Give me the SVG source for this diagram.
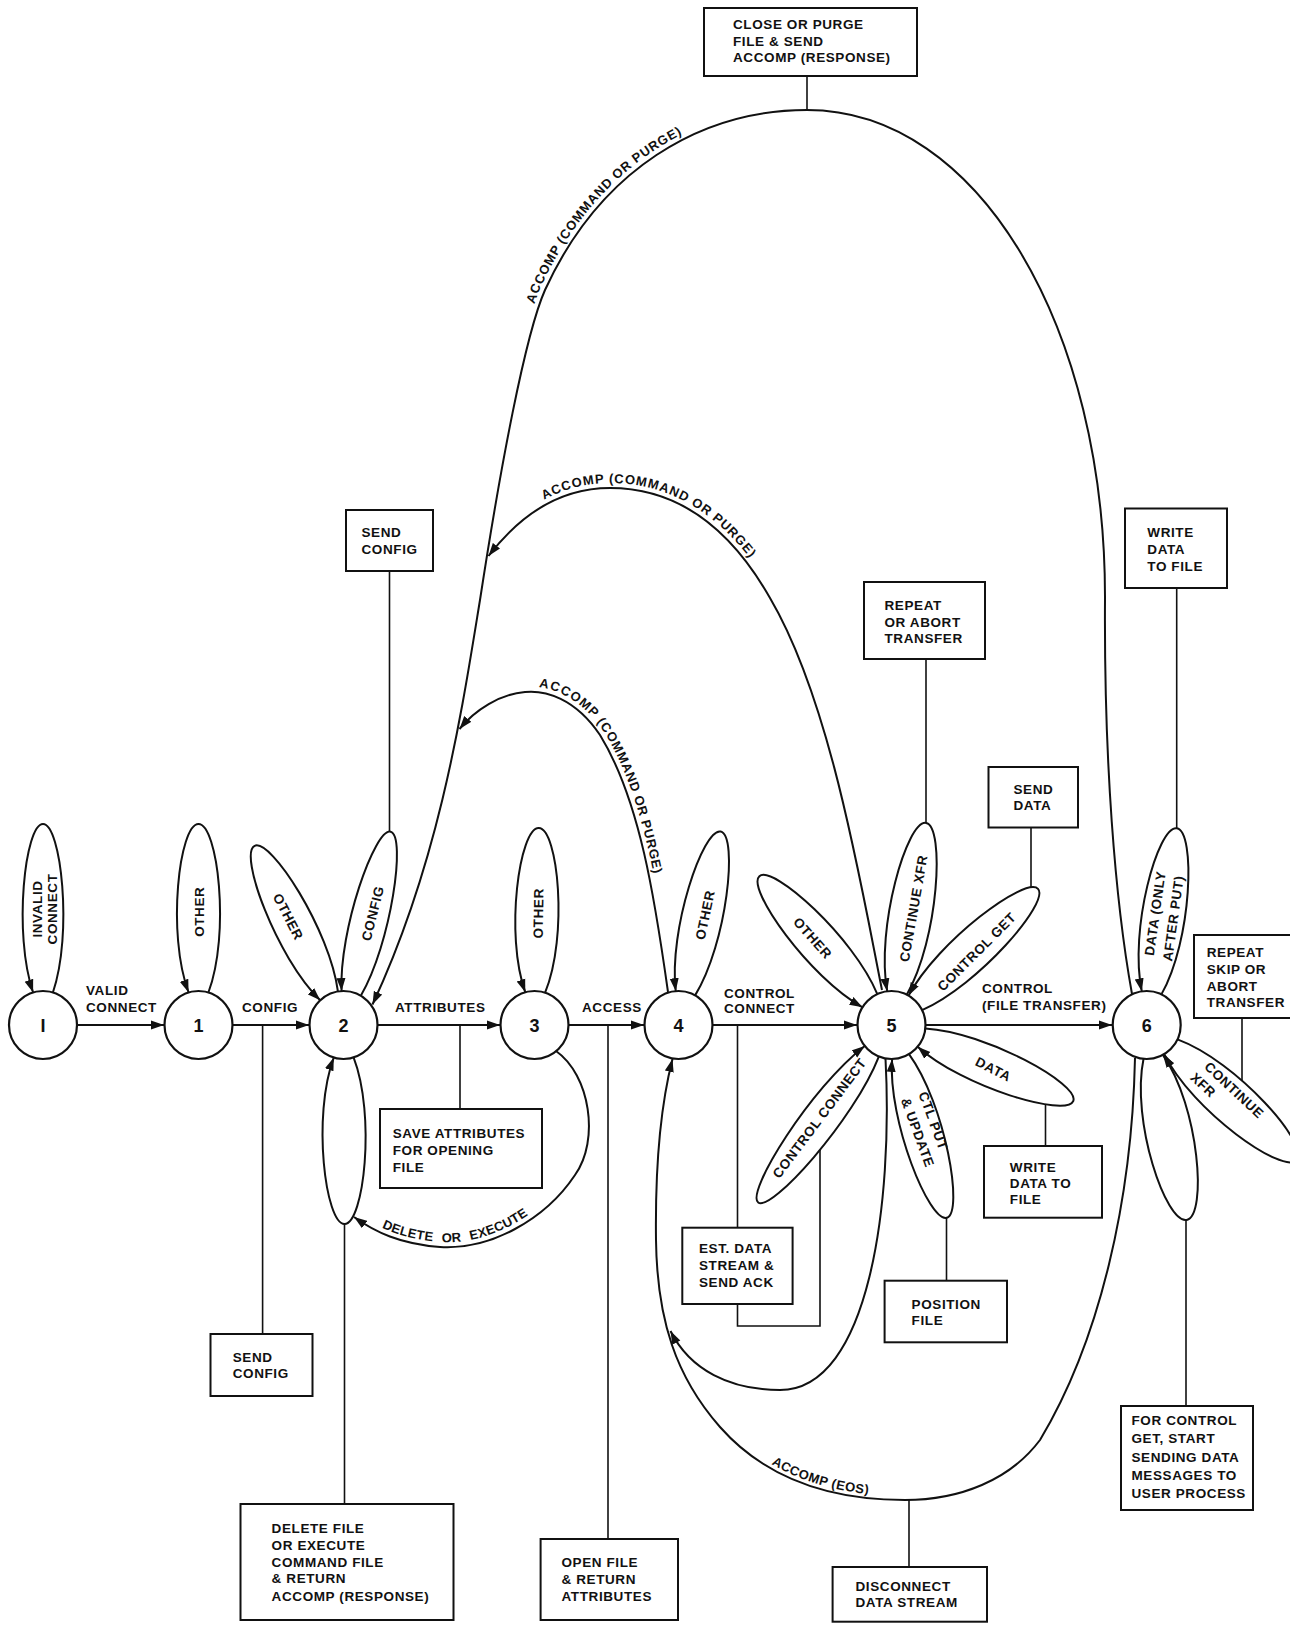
<svg xmlns="http://www.w3.org/2000/svg" width="1290" height="1627" viewBox="0 0 1290 1627">
<style>
text { font-family: "Liberation Sans", Arial, sans-serif; font-weight: bold; font-size: 13.5px; letter-spacing: 0.6px; fill: #111; }
.n { font-size: 18px; text-anchor: middle; letter-spacing: 0; }
.m { text-anchor: middle; }
.a { font-size: 13px; }
.c { fill: #fff; stroke: #111; stroke-width: 2.2; }
.box { fill: #fff; stroke: #111; stroke-width: 2; }
.ln { fill: none; stroke: #111; stroke-width: 1.6; }
.ar { fill: none; stroke: #111; stroke-width: 2; }
.pt { fill: #fff; stroke: #111; stroke-width: 2; }
</style>
<defs>
<marker id="ah" markerUnits="userSpaceOnUse" markerWidth="14" markerHeight="10" refX="13" refY="5" orient="auto">
<path d="M0,0.5 L13,5 L0,9.5 z" fill="#111"/>
</marker>
<path id="tpOuter" d="M480,600 C500,470 525,335 545,290 C600,170 700,110 807,110"/>
<path id="tpMid" d="M488.5,556 C520,515 560,488 610,488 C660,488 720,510 770,598 C830,700 860,880 882,990"/>
<path id="tpInner" d="M459.5,729 C475,710 500,694 525,692 C545,690 575,698 600,735 C640,800 655,900 668,992"/>
<path id="tpEos" d="M720,1427 C765,1478 830,1500 905,1500"/>
<path id="tpDel" d="M354,1217 C375,1232 400,1244 440,1247 C490,1250 545,1220 575,1175 C600,1140 590,1075 556,1051"/>
</defs>
<rect x="0" y="0" width="1290" height="1627" fill="#fff"/>

<g id="connectors">
  <!-- lines from action boxes -->
  <g class="ln">
    <path d="M807,76 V110"/>
    <path d="M389.5,571 V834"/>
    <path d="M926,659 V826"/>
    <path d="M1031,827.5 V892"/>
    <path d="M1176.7,588 V831"/>
    <path d="M1242,1018 V1085"/>
    <path d="M460,1025 V1109"/>
    <path d="M262.6,1025 V1334"/>
    <path d="M608,1025 V1539"/>
    <path d="M737.5,1025 V1228"/>
    <path d="M737.5,1304 V1326 H820 V1140"/>
    <path d="M344.5,1218 V1504"/>
    <path d="M946.5,1212 V1281"/>
    <path d="M1045.5,1100 V1146"/>
    <path d="M909,1499 V1567"/>
    <path d="M1186,1215 V1406"/>
  </g>
  <!-- self loops (petals) -->
  <g class="pt">
    <path transform="translate(43,1025) rotate(-90)" d="M32.5,9.9 C91.5,30 201,18 201,0 C201,-18 91.5,-30 32.5,-9.9" marker-end="url(#ah)"/>
    <path transform="translate(198.5,1025) rotate(-90)" d="M32.5,9.9 C91.5,32 201,19.2 201,0 C201,-19.2 91.5,-32 32.5,-9.9" marker-end="url(#ah)"/>
    <path transform="translate(343.5,1025) rotate(-116.4)" d="M32.5,9.9 C91.1,30 200,18 200,0 C200,-18 91.1,-30 32.5,-9.9" marker-end="url(#ah)"/>
    <path transform="translate(343.5,1025) rotate(-76.3)" d="M32.5,9.9 C90.8,27 199,16.2 199,0 C199,-16.2 90.8,-27 32.5,-9.9" marker-end="url(#ah)"/>
    <path transform="translate(343.5,1025) rotate(89.7)" d="M32.5,-9.9 C90.8,-32 199,-19.2 199,0 C199,19.2 90.8,32 32.5,9.9" marker-end="url(#ah)"/>
    <path transform="translate(534.5,1025) rotate(-88.75)" d="M32.5,9.9 C90.1,32 197,19.2 197,0 C197,-19.2 90.1,-32 32.5,-9.9" marker-end="url(#ah)"/>
    <path transform="translate(678.5,1025) rotate(-77.7)" d="M32.5,9.9 C90.4,30 198,18 198,0 C198,-18 90.4,-30 32.5,-9.9" marker-end="url(#ah)"/>
    <path transform="translate(891.5,1025) rotate(-131.6)" d="M32.5,9.9 C90.8,30 199,18 199,0 C199,-18 90.8,-30 32.5,-9.9" marker-end="url(#ah)"/>
    <path transform="translate(891.5,1025) rotate(-80.3)" d="M32.5,9.9 C92.9,32 205,19.2 205,0 C205,-19.2 92.9,-32 32.5,-9.9" marker-end="url(#ah)"/>
    <path transform="translate(891.5,1025) rotate(-42.9)" d="M32.5,9.9 C91.1,30 200,18 200,0 C200,-18 91.1,-30 32.5,-9.9" marker-end="url(#ah)"/>
    <path transform="translate(891.5,1025) rotate(126.9)" d="M32.8,-8.8 C98.8,-27 222,-16.2 222,0 C222,16.2 98.8,27 32.8,8.8" marker-end="url(#ah)"/>
    <path transform="translate(891.5,1025) rotate(74)" d="M32.8,-8.8 C91.3,-30 200.5,-18 200.5,0 C200.5,18 91.3,30 32.8,8.8" marker-end="url(#ah)"/>
    <path transform="translate(891.5,1025) rotate(22.7)" d="M32.5,-9.9 C90.1,-30 197,-18 197,0 C197,18 90.1,30 32.5,9.9" marker-end="url(#ah)"/>
    <path transform="translate(1146.7,1025) rotate(-81.3)" d="M32.5,9.9 C90.8,32 199,19.2 199,0 C199,-19.2 90.8,-32 32.5,-9.9" marker-end="url(#ah)"/>
    <path transform="translate(1146.7,1025) rotate(42)" d="M32.5,-9.9 C91.8,-33.5 202,-20.1 202,0 C202,20.1 91.8,33.5 32.5,9.9" marker-end="url(#ah)"/>
    <path transform="translate(1146.7,1025) rotate(78.4)" d="M32.5,9.9 C90.8,35 199,21 199,0 C199,-21 90.8,-35 32.5,-9.9" marker-end="url(#ah)"/>
  </g>
  <!-- transitions -->
  <g class="ar">
    <path d="M77,1025 H164" marker-end="url(#ah)"/>
    <path d="M232.5,1025 H309" marker-end="url(#ah)"/>
    <path d="M377.5,1025 H500" marker-end="url(#ah)"/>
    <path d="M568.5,1025 H644" marker-end="url(#ah)"/>
    <path d="M712.5,1025 H857" marker-end="url(#ah)"/>
    <path d="M925.5,1025 H1112" marker-end="url(#ah)"/>
    <path d="M1132,994 C1115,900 1104,760 1105,600 C1106,330 980,110 807,110 C700,110 600,170 545,290 C525,335 500,470 480,600 C462,710 440,860 372.5,1004.5" marker-end="url(#ah)"/>
    <path d="M882,990 C860,880 830,700 770,598 C720,510 660,488 610,488 C560,488 520,515 488.5,556" marker-end="url(#ah)"/>
    <path d="M668,992 C655,900 640,800 600,735 C575,698 545,690 525,692 C500,694 475,710 459.5,729" marker-end="url(#ah)"/>
    <path d="M1135,1058 C1132,1200 1100,1340 1040,1440 C1010,1480 960,1500 905,1500 C830,1500 765,1478 720,1427 C676,1377 657,1320 656,1240 C655,1160 662,1100 672.5,1059" marker-end="url(#ah)"/>
    <path d="M885.5,1058.5 C893,1200 870,1390 780,1390 C730,1390 690,1370 670.5,1331" marker-end="url(#ah)"/>
    <path d="M556,1051 C590,1075 600,1140 575,1175 C545,1220 490,1250 440,1247 C400,1244 375,1232 354,1217" marker-end="url(#ah)"/>
  </g>
  <!-- transition labels -->
  <text x="86" y="995">VALID</text>
  <text x="86" y="1012">CONNECT</text>
  <text x="242" y="1012">CONFIG</text>
  <text x="395" y="1012">ATTRIBUTES</text>
  <text x="582" y="1012">ACCESS</text>
  <text x="724" y="997.5">CONTROL</text>
  <text x="724" y="1012.5">CONNECT</text>
  <text x="982" y="993">CONTROL</text>
  <text x="982" y="1010">(FILE TRANSFER)</text>
  <text class="a" dy="-5"><textPath href="#tpOuter" startOffset="300">ACCOMP (COMMAND OR PURGE)</textPath></text>
  <text class="a" dy="-5"><textPath href="#tpMid" startOffset="78">ACCOMP (COMMAND OR PURGE)</textPath></text>
  <text class="a" dy="-5"><textPath href="#tpInner" startOffset="90">ACCOMP (COMMAND OR PURGE)</textPath></text>
  <text class="a" dy="-4"><textPath href="#tpEos" startOffset="64">ACCOMP (EOS)</textPath></text>
  <text class="a" dy="-5" word-spacing="5" letter-spacing="1.3"><textPath href="#tpDel" startOffset="30">DELETE OR EXECUTE</textPath></text>
  <!-- loop labels -->
  <text class="m" transform="translate(36.7,909) rotate(-90)" y="4.8">INVALID</text>
  <text class="m" transform="translate(52,909) rotate(-90)" y="4.8">CONNECT</text>
  <text class="m" transform="translate(199,911.7) rotate(-90)" y="4.8">OTHER</text>
  <text class="m" transform="translate(288.3,916.7) rotate(63)" y="4.8">OTHER</text>
  <text class="m" transform="translate(372.7,913.3) rotate(-76)" y="4.8">CONFIG</text>
  <text class="m" transform="translate(538.3,913.3) rotate(-89)" y="4.8">OTHER</text>
  <text class="m" transform="translate(705,915) rotate(-78)" y="4.8">OTHER</text>
  <text class="m" transform="translate(812.7,938) rotate(48.4)" y="4.8">OTHER</text>
  <text class="m" transform="translate(913.5,908.3) rotate(-80)" y="4.8">CONTINUE XFR</text>
  <text class="m" transform="translate(976.7,951.7) rotate(-45)" y="4.8">CONTROL GET</text>
  <text class="m" transform="translate(819.4,1118) rotate(-53)" y="4.8">CONTROL CONNECT</text>
  <text class="m" transform="translate(933.3,1120.8) rotate(70)" y="4.8">CTL PUT</text>
  <text class="m" transform="translate(917.8,1132.5) rotate(70)" y="4.8">&amp; UPDATE</text>
  <text class="m" transform="translate(993.4,1069) rotate(27)" y="4.8">DATA</text>
  <text class="m" transform="translate(1155,913.3) rotate(-82)" y="4.8">DATA (ONLY</text>
  <text class="m" transform="translate(1173.2,918.3) rotate(-82)" y="4.8">AFTER PUT)</text>
  <text class="m" transform="translate(1234.2,1090) rotate(43)" y="4.8">CONTINUE</text>
  <text class="m" transform="translate(1203.3,1085) rotate(43)" y="4.8">XFR</text>
</g>

<g id="node-I"><circle class="c" cx="43" cy="1025" r="34"/><text class="n" x="43" y="1031.5">I</text></g>
<g id="node-1"><circle class="c" cx="198.5" cy="1025" r="34"/><text class="n" x="198.5" y="1031.5">1</text></g>
<g id="node-2"><circle class="c" cx="343.5" cy="1025" r="34"/><text class="n" x="343.5" y="1031.5">2</text></g>
<g id="node-3"><circle class="c" cx="534.5" cy="1025" r="34"/><text class="n" x="534.5" y="1031.5">3</text></g>
<g id="node-4"><circle class="c" cx="678.5" cy="1025" r="34"/><text class="n" x="678.5" y="1031.5">4</text></g>
<g id="node-5"><circle class="c" cx="891.5" cy="1025" r="34"/><text class="n" x="891.5" y="1031.5">5</text></g>
<g id="node-6"><circle class="c" cx="1146.7" cy="1025" r="34"/><text class="n" x="1146.7" y="1031.5">6</text></g>

<g id="box-close-purge"><rect class="box" x="704" y="8" width="213" height="68"/>
<text x="733" y="29">CLOSE OR PURGE</text><text x="733" y="45.5">FILE &amp; SEND</text><text x="733" y="62">ACCOMP (RESPONSE)</text></g>
<g id="box-send-config-top"><rect class="box" x="346" y="510" width="87" height="61"/>
<text x="361.5" y="537">SEND</text><text x="361.5" y="553.5">CONFIG</text></g>
<g id="box-repeat-abort"><rect class="box" x="864" y="582" width="121" height="77"/>
<text x="884.5" y="610">REPEAT</text><text x="884.5" y="626.5">OR ABORT</text><text x="884.5" y="643">TRANSFER</text></g>
<g id="box-send-data"><rect class="box" x="988.5" y="767" width="89.5" height="60.5"/>
<text x="1013.5" y="793.5">SEND</text><text x="1013.5" y="810">DATA</text></g>
<g id="box-write-data-top"><rect class="box" x="1125" y="508.5" width="102" height="79.5"/>
<text x="1147.3" y="537.3">WRITE</text><text x="1147.3" y="554">DATA</text><text x="1147.3" y="570.7">TO FILE</text></g>
<g id="box-repeat-skip"><rect class="box" x="1194" y="935" width="100" height="83"/>
<text x="1206.7" y="957">REPEAT</text><text x="1206.7" y="974">SKIP OR</text><text x="1206.7" y="990.7">ABORT</text><text x="1206.7" y="1006.5">TRANSFER</text></g>
<g id="box-save-attributes"><rect class="box" x="380" y="1109" width="162" height="79"/>
<text x="392.7" y="1138">SAVE ATTRIBUTES</text><text x="392.7" y="1155">FOR OPENING</text><text x="392.7" y="1171.7">FILE</text></g>
<g id="box-send-config-bottom"><rect class="box" x="210.5" y="1334" width="102" height="62"/>
<text x="232.7" y="1361.7">SEND</text><text x="232.7" y="1378.3">CONFIG</text></g>
<g id="box-delete-execute"><rect class="box" x="240.5" y="1504" width="213" height="116"/>
<text x="271.6" y="1533">DELETE FILE</text><text x="271.6" y="1550">OR EXECUTE</text><text x="271.6" y="1566.7">COMMAND FILE</text><text x="271.6" y="1583.3">&amp; RETURN</text><text x="271.6" y="1600.5">ACCOMP (RESPONSE)</text></g>
<g id="box-open-file"><rect class="box" x="540.6" y="1539" width="137.4" height="81"/>
<text x="561.5" y="1567.3">OPEN FILE</text><text x="561.5" y="1584">&amp; RETURN</text><text x="561.5" y="1600.7">ATTRIBUTES</text></g>
<g id="box-est-data-stream"><rect class="box" x="682.3" y="1227.7" width="110.3" height="76.3"/>
<text x="699" y="1253.3">EST. DATA</text><text x="699" y="1270">STREAM &amp;</text><text x="699" y="1286.7">SEND ACK</text></g>
<g id="box-position-file"><rect class="box" x="884.6" y="1280.7" width="122.4" height="61.6"/>
<text x="911.6" y="1309.3">POSITION</text><text x="911.6" y="1325">FILE</text></g>
<g id="box-write-data-mid"><rect class="box" x="984" y="1146" width="118" height="71.7"/>
<text x="1009.8" y="1171.7">WRITE</text><text x="1009.8" y="1188.3">DATA TO</text><text x="1009.8" y="1204.3">FILE</text></g>
<g id="box-disconnect"><rect class="box" x="832.6" y="1567" width="154.4" height="54.7"/>
<text x="855.5" y="1590.7">DISCONNECT</text><text x="855.5" y="1607.3">DATA STREAM</text></g>
<g id="box-control-get"><rect class="box" x="1121" y="1406" width="132" height="104"/>
<text x="1131.5" y="1425">FOR CONTROL</text><text x="1131.5" y="1443.3">GET, START</text><text x="1131.5" y="1461.7">SENDING DATA</text><text x="1131.5" y="1480">MESSAGES TO</text><text x="1131.5" y="1498.3">USER PROCESS</text></g>
</svg>
